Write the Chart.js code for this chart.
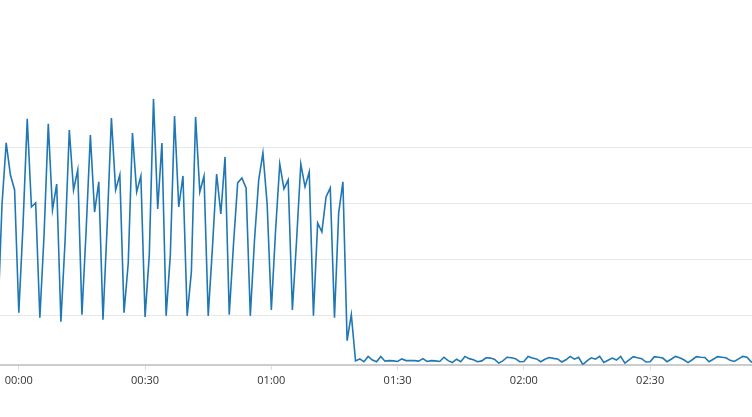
<!DOCTYPE html>
<html>
<head>
<meta charset="utf-8">
<script src="https://cdn.jsdelivr.net/npm/chart.js@4/dist/chart.umd.min.js"></script>
<style>
  html, body { margin: 0; padding: 0; background: #fff; }
  #wrap { width: 752px; height: 417px; position: relative; }
</style>
</head>
<body>
<div id="wrap"><canvas id="lineChart"></canvas></div>
<script>
// minutes since 00:00 of the first sample, one sample per minute
const startMinute = -5;

// one value per minute
const values = [
  18.6, 59.6, 81.8, 70.4, 65.0,
  21.1, 52.5, 90.4, 58.9, 60.4,
  19.3, 48.9, 88.6, 57.9, 67.1,
  17.9, 47.1, 86.4, 65.0, 72.1,
  20.4, 50.7, 84.6, 57.1, 67.9,
  18.6, 52.5, 90.7, 65.0, 70.4,
  21.1, 38.9, 85.3, 64.3, 70.0,
  19.6, 41.8, 97.5, 58.2, 81.8,
  20.0, 41.8, 91.4, 58.9, 70.0,
  20.0, 35.7, 91.1, 64.3, 70.0,
  20.0, 44.3, 70.7, 56.4, 76.8,
  20.4, 45.4, 67.5, 69.3, 65.7,
  20.0, 47.1, 68.6, 78.2, 60.0,
  22.1, 50.4, 74.3, 65.4, 68.6,
  22.1, 47.1, 74.3, 66.1, 71.4,
  20.0, 53.2, 50.0, 62.5, 65.7,
  19.3, 56.8, 67.9, 11.1, 20.4,
  3.9, 4.6, 3.6, 5.5, 4.2,
  3.6, 5.5, 3.8, 4.0, 3.9,
  3.7, 4.6, 4.0, 4.0, 4.0,
  3.8, 4.7, 3.7, 4.0, 3.9,
  3.7, 5.2, 4.0, 3.3, 4.5,
  3.6, 5.5, 4.7, 4.3, 3.6,
  3.9, 5.0, 4.9, 4.5, 3.1,
  3.9, 5.2, 5.0, 4.7, 3.6,
  3.7, 5.5, 4.9, 4.6, 3.6,
  4.5, 5.1, 4.8, 4.6, 3.5,
  4.3, 5.5, 4.5, 5.2, 2.6,
  3.9, 5.0, 4.5, 5.5, 3.3,
  4.1, 4.9, 4.2, 5.5, 3.1,
  4.3, 5.4, 5.0, 4.7, 3.5,
  3.6, 5.4, 5.2, 4.9, 3.6,
  4.5, 5.5, 5.0, 4.3, 3.3,
  4.3, 5.4, 5.2, 5.1, 3.6,
  4.5, 5.4, 5.2, 5.0, 4.1,
  3.7, 4.6, 5.5, 5.2, 3.6,
  2.9
];

const tickMinutes = [0, 30, 60, 90, 120, 150];
const tickLabels = ['00:00', '00:30', '01:00', '01:30', '02:00', '02:30'];
const gridValues = [20, 40, 60, 80];

const points = values.map((v, i) => ({ x: startMinute + i, y: v }));

const ctx = document.getElementById('lineChart').getContext('2d');

new Chart(ctx, {
  type: 'line',
  data: {
    datasets: [{
      data: points,
      borderColor: '#1f77b4',
      borderWidth: 1.6,
      pointRadius: 0,
      tension: 0,
      fill: false
    }]
  },
  options: {
    responsive: true,
    maintainAspectRatio: false,
    animation: false,
    layout: { padding: { top: 99, bottom: 26, left: 0, right: 0 } },
    plugins: { legend: { display: false }, tooltip: { enabled: false } },
    scales: {
      x: {
        type: 'linear',
        min: -4.47,
        max: 174.2,
        afterBuildTicks: axis => { axis.ticks = tickMinutes.map(v => ({ value: v })); },
        grid: { drawOnChartArea: false, drawTicks: true, tickLength: 5, color: '#dddddd' },
        border: { display: true, color: '#cccccc', width: 2 },
        ticks: {
          color: '#333333',
          padding: 4,
          maxRotation: 0,
          font: { family: 'Open Sans', size: 11 },
          callback: v => tickLabels[tickMinutes.indexOf(v)]
        }
      },
      y: {
        min: 2.5,
        max: 97.5,
        afterBuildTicks: axis => { axis.ticks = gridValues.map(v => ({ value: v })); },
        grid: { color: '#e8e8e8', drawTicks: false },
        border: { display: false },
        ticks: { display: false }
      }
    }
  }
});
</script>
</body>
</html>
